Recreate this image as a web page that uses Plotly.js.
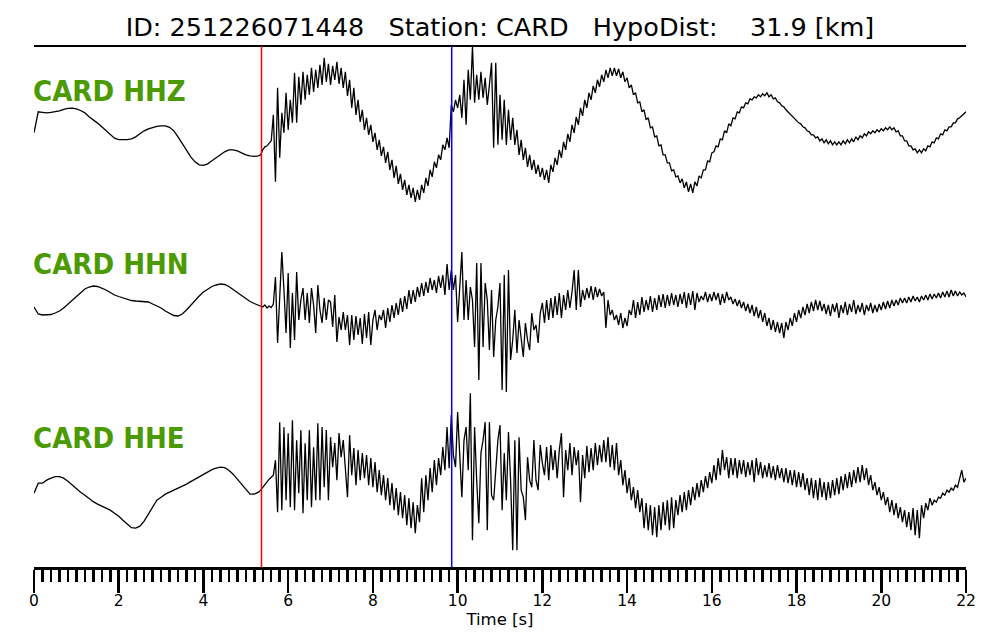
<!DOCTYPE html>
<html><head><meta charset="utf-8">
<script src="https://cdn.plot.ly/plotly-3.0.1.min.js"></script>
<style>html,body{margin:0;padding:0;background:#fff}#chart{width:1000px;height:640px}</style>
</head><body><div id="chart"></div>
<script>
const eventId = '251226071448';
const station = 'CARD';
const hypoDist = 31.9;
const channels = ['HHZ', 'HHN', 'HHE'];
const pPick = 5.37;
const sPick = 9.86;
const preStep = 0.1;
const postStart = 5.35;
const postStep = 0.05;

const hhzPre = [0,21,20.5,20,20.5,21,22,23.5,24.5,24.7,
 24,22.3,20,16,13,9.7,6,2,-2,-5.3,
 -6.7,-7,-6.7,-6,-4,-1,2,4,5.5,6.5,
 7,7,5.5,2,-4,-11,-18,-24,-29,-32,
 -32.5,-31,-28,-25,-22,-19,-17,-17,-18,-20,
 -22,-23,-23.5,-23];
const hhzPost = [-22,-17,-14,-13,-11,-8,18,-49,45,-25,20,0,40,
 3,33,10,60,10,56,28,61,33,58,38,65,41,63,45,68,48,75,51,69,
 48,67,53,71,49,65,45,61,37,53,25,45,18,33,11,23,3,15,-2,8,
 -9,0,-17,-7,-23,-14,-30,-19,-37,-27,-45,-33,-51,-41,-57,-47,-62,-52,-65,-55,
 -69,-57,-67,-52,-60,-45,-53,-37,-44,-29,-35,-22,-27,-12,-17,-5,-15,28,21,33,
 25,38,15,53,8,63,33,86,30,58,33,61,35,55,28,48,70,-15,70,-12,
 38,-7,33,-12,23,-7,15,-12,3,-22,-7,-27,-15,-34,-22,-37,-27,-41,-32,-44,
 -35,-47,-37,-50,-32,-39,-25,-32,-17,-25,-9,-17,-1,-9,8,0,16,8,25,17,
 33,25,40,33,47,40,53,46,58,51,63,55,65,57,65,57,64,55,61,51,
 55,45,48,38,40,30,31,21,23,13,15,5,6,-4,-3,-13,-12,-22,-22,-30,
 -30,-38,-37,-44,-43,-50,-46,-55,-49,-59,-51,-60,-49,-53,-43,-45,-37,-37,-28,-29,
 -20,-19,-13,-14,-6,-7,2,0,9,7,15,14,21,20,26,25,30,29,34,33,
 36,35,38,36,39,37,40,36,38,34,35,31,30,27,26,23,21,18,17,14,
 13,10,9,6,5,2,1,-2,-2,-5,-4,-8,-6,-10,-7,-11,-8,-12,-9,-12,
 -9,-12,-8,-11,-7,-10,-6,-9,-4,-7,-3,-5,-1,-3,1,-1,2,0,3,1,
 4,2,5,3,6,3,5,1,2,-3,-3,-8,-8,-13,-13,-17,-16,-20,-17,-20,
 -16,-18,-13,-14,-9,-10,-5,-6,-1,-2,3,2,6,6,10,10,14,15,17,19,
 21];

const hhnPre = [-0.5,-7.5,-8.5,-8.5,-8,-6.5,-4.5,-1.5,2.5,6.5,
 10.5,14.5,17.5,19.5,20.5,20,18.5,16.5,14,11.5,
 10,8.5,7,6,5.5,5,5,4.5,2.5,0.5,
 -1.5,-4.5,-7,-9,-9.5,-7.5,-3.5,1.5,6.5,10.5,
 14.5,17.5,20,21.5,22.5,22,20,17,14,11,
 7.5,5,3,1.5];
const hhnPost = [1,-0.5,1.5,-1.5,0.5,-1,2.5,29.5,-36.5,6.5,54.5,16.5,-26.5,
 33.5,-41.5,13.5,-33.5,34.5,-13.5,6.5,18.5,-13.5,13.5,-16.5,18.5,1.5,-26.5,21.5,-3.5,-16.5,8.5,-13.5,6.5,
 4.5,-20.5,11.5,-35.5,-10.5,-23.5,-5.5,-23.5,-8.5,-38.5,-8.5,-33.5,-9.5,-28.5,-11.5,-37.5,-7.5,-31.5,-5.5,-38.5,
 -13.5,-3.5,-23.5,-8.5,-13.5,-3.5,-21.5,-1.5,-15.5,1.5,-11.5,3.5,-8.5,8.5,-5.5,10.5,-2.5,16.5,2.5,16.5,
 4.5,19.5,9.5,23.5,10.5,24.5,13.5,28.5,16.5,26.5,13.5,30.5,18.5,31.5,11.5,42.5,16.5,36.5,16.5,31.5,
 -15.5,16.5,54.5,-13.5,26.5,-13.5,19.5,6.5,-40.5,43.5,-73.5,43.5,-40.5,23.5,6.5,-43.5,16.5,-50.5,-13.5,-0.5,
 23.5,-83.5,31.5,-85.5,36.5,-53.5,-33.5,-3.5,-46.5,-13.5,-33.5,-50.5,-16.5,-33.5,-43.5,-6.5,-23.5,-18.5,-36.5,-6.5,
 3.5,-16.5,6.5,-13.5,8.5,-11.5,10.5,-8.5,13.5,-11.5,11.5,-3.5,16.5,-1.5,14.5,36.5,-3.5,36.5,-0.5,16.5,
 6.5,18.5,8.5,20.5,6.5,19.5,9.5,17.5,10.5,14.5,-21.5,6.5,-8.5,-3.5,-13.5,-8.5,-18.5,-6.5,-21.5,-11.5,
 -19.5,-3.5,-8.5,6.5,-11.5,4.5,-8.5,9.5,-5.5,6.5,-3.5,10.5,-5.5,8.5,-3.5,11.5,-0.5,12.5,-1.5,11.5,
 0.5,13.5,1.5,11.5,-0.5,12.5,2.5,14.5,-1.5,13.5,1.5,15.5,-3.5,13.5,4.5,10.5,6.5,14.5,4.5,12.5,
 5.5,14.5,6.5,13.5,1.5,12.5,3.5,14.5,6.5,9.5,2.5,7.5,0.5,6.5,-1.5,4.5,-4.5,2.5,-6.5,1.5,
 -9.5,-0.5,-11.5,-3.5,-15.5,-6.5,-19.5,-11.5,-23.5,-13.5,-25.5,-15.5,-26.5,-16.5,-31.5,-15.5,-23.5,-11.5,-19.5,-6.5,
 -15.5,-3.5,-11.5,-0.5,-8.5,2.5,-6.5,4.5,-4.5,6.5,-3.5,5.5,-4.5,2.5,-7.5,1.5,-9.5,2.5,-5.5,3.5,
 -11.5,1.5,-6.5,4.5,-8.5,2.5,-5.5,6.5,-7.5,1.5,-5.5,3.5,-8.5,1.5,-4.5,3.5,-6.5,1.5,-5.5,2.5,
 -3.5,4.5,-2.5,5.5,-1.5,6.5,0.5,6.5,1.5,8.5,3.5,8.5,3.5,9.5,4.5,10.5,5.5,9.5,4.5,10.5,
 6.5,11.5,6.5,12.5,7.5,12.5,8.5,13.5,8.5,14.5,9.5,15.5,9.5,16.5,10.5,15.5,10.5,14.5,11.5,13.5,
 9.5];

const hhePre = [-13,-3,-3,0,2,3.5,3.5,2,-1,-5,
 -9,-12,-15,-18.5,-21.5,-24,-26,-28,-30,-33,
 -36,-40,-44,-47.5,-48,-46,-41,-34,-26,-20,
 -17,-14,-12,-10,-8,-6.5,-4,-1.5,1,3,
 5.5,8,10.5,12,13,12.5,10,6,1,-5,
 -10,-14,-14,-12];
const hhePost = [-10,-7,-5,-1,1,3,5,20,-32,58,-30,53,-20,
 47,-27,60,-30,40,-13,50,-33,37,-20,50,-27,33,-20,57,-20,53,-7,50,-20,
 43,13,37,0,47,23,40,10,-17,45,5,32,-5,30,0,27,2,25,-5,22,
 -7,18,-12,10,-15,5,-20,2,-25,-3,-30,-8,-35,-12,-38,-15,-45,-18,-48,-22,
 -53,-25,-42,2,-32,5,-20,12,-12,20,-5,22,5,33,10,53,12,65,25,13,
 68,25,-17,40,53,10,87,-60,53,0,-43,27,40,58,-50,58,-15,-20,7,40,
 55,-30,27,-20,48,0,-70,40,-70,43,-10,-17,-40,23,0,-7,40,0,-10,35,
 17,5,33,0,35,10,30,2,30,47,-17,30,10,37,5,33,15,30,-22,25,
 2,34,8,32,10,37,15,35,18,40,18,43,13,35,10,37,5,20,-5,10,
 -13,2,-20,-7,-28,-10,-32,-18,-48,-23,-50,-25,-55,-27,-57,-25,-50,-22,-45,-20,
 -50,-17,-48,-20,-35,-15,-32,-12,-30,-10,-25,-7,-20,-3,-17,0,-12,4,-8,8,
 -3,15,0,22,5,30,10,23,2,22,5,22,2,20,6,20,3,18,5,20,
 -2,22,5,18,2,15,3,17,2,14,0,15,2,12,-2,12,-3,10,-5,10,
 -7,8,-7,7,-10,2,-15,2,-18,0,-20,2,-17,-2,-20,-2,-18,0,-15,2,
 -14,4,-10,6,-8,8,-7,10,-3,13,-2,15,0,12,-5,5,-10,-2,-15,-7,
 -20,-12,-25,-17,-32,-20,-35,-23,-38,-27,-42,-30,-47,-32,-50,-28,-55,-30,-58,-25,
 -38,-23,-30,-18,-25,-20,-22,-17,-18,-13,-15,-10,-12,-8,-10,-5,-7,2,10,-2,
 2];

const seriesPre = [hhzPre, hhnPre, hhePre];
const seriesPost = [hhzPost, hhnPost, hhePost];

function sampleTimes(preN, postN) {
  const t = [];
  for (let i = 0; i < preN; i++) t.push(Math.round(i * preStep * 1000) / 1000);
  for (let i = 0; i < postN; i++) t.push(Math.round((postStart + i * postStep) * 1000) / 1000);
  return t;
}

const traces = channels.map((ch, k) => ({
  type: 'scatter', mode: 'lines', name: station + ' ' + ch,
  x: sampleTimes(seriesPre[k].length, seriesPost[k].length),
  y: seriesPre[k].concat(seriesPost[k]),
  xaxis: 'x', yaxis: k === 0 ? 'y' : 'y' + (k + 1),
  line: {color: '#000000', width: 1.3},
  hoverinfo: 'skip'
}));

const yCommon = {range: [-86.8, 86.8], visible: false, fixedrange: true, showgrid: false, zeroline: false};
const domains = [[2/3, 1], [1/3, 2/3], [0, 1/3]];
const labelY = [0.9136, 0.5816, 0.2476];
const nbsp = '\u00a0';

const layout = {
  width: 1000, height: 640,
  margin: {l: 34, r: 34, t: 46, b: 73, pad: 0},
  paper_bgcolor: '#ffffff', plot_bgcolor: '#ffffff',
  showlegend: false,
  font: {family: 'DejaVu Sans, sans-serif', color: '#000000'},
  title: {
    text: 'ID: ' + eventId + nbsp.repeat(3) + 'Station: ' + station + nbsp.repeat(3) + 'HypoDist:' + nbsp.repeat(4) + hypoDist.toFixed(1) + ' [km]',
    font: {family: 'DejaVu Sans, sans-serif', size: 25.5, color: '#000000'},
    x: 0.5, xanchor: 'center', xref: 'paper', y: 1 - 27 / 640, yanchor: 'middle', yref: 'container'
  },
  xaxis: {
    range: [0, 22], anchor: 'y3', tick0: 0, dtick: 2,
    ticks: 'outside', ticklen: 23, tickwidth: 2.5, tickcolor: '#000000',
    showline: true, linewidth: 2.5, linecolor: '#000000',
    showgrid: false, zeroline: false, fixedrange: true,
    tickfont: {size: 15.5, color: '#000000'},
    ticklabelstandoff: -5,
    minor: {tick0: 0, dtick: 0.2, ticks: 'outside', ticklen: 12, tickwidth: 2.5, tickcolor: '#000000', showgrid: false},
    title: {text: 'Time [s]', font: {size: 16.5, color: '#000000'}, standoff: 0}
  },
  yaxis: Object.assign({}, yCommon, {domain: domains[0]}),
  yaxis2: Object.assign({}, yCommon, {domain: domains[1]}),
  yaxis3: Object.assign({}, yCommon, {domain: domains[2]}),
  shapes: [
    {type: 'line', xref: 'paper', yref: 'paper', x0: 0, x1: 1, y0: 1, y1: 1, line: {color: '#000000', width: 2}},
    {type: 'line', xref: 'x', yref: 'paper', x0: pPick, x1: pPick, y0: 0, y1: 1, line: {color: '#ff0000', width: 1.5}},
    {type: 'line', xref: 'x', yref: 'paper', x0: sPick, x1: sPick, y0: 0, y1: 1, line: {color: '#0000ff', width: 1.5}}
  ],
  annotations: channels.map((ch, k) => ({
    text: station + ' ' + ch, xref: 'paper', yref: 'paper', x: 0, y: labelY[k],
    xanchor: 'left', yanchor: 'middle', showarrow: false, xshift: -3,
    font: {family: 'DejaVu Sans Condensed, DejaVu Sans, sans-serif', size: 29, color: '#4b9a00', weight: 'bold'}
  }))
};

Plotly.newPlot('chart', traces, layout, {displayModeBar: false, staticPlot: true});
</script>
</body></html>
